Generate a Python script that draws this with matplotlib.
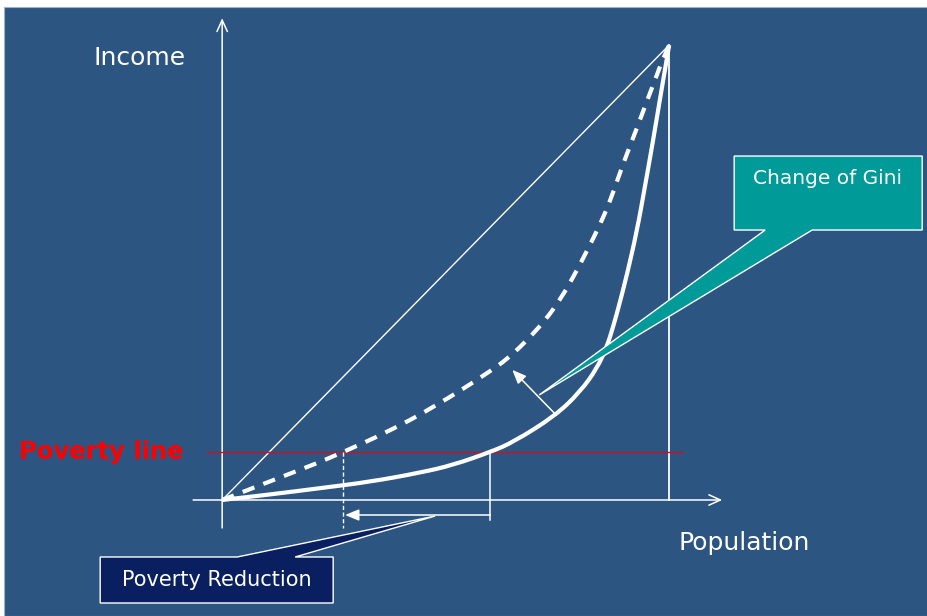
import matplotlib.pyplot as plt
from matplotlib.patches import Polygon, Rectangle, PathPatch
from matplotlib.path import Path

# Lorenz curves: cumulative population share vs cumulative income share
pop_before = [0, 0.107, 0.219, 0.331, 0.443, 0.517, 0.600, 0.651, 0.745, 0.801,
              0.839, 0.861, 0.875, 0.888, 0.906, 0.928, 0.946, 0.964, 0.980, 1.0]
inc_before = [0, 0.012, 0.026, 0.040, 0.060, 0.077, 0.1055, 0.127, 0.185, 0.238,
              0.290, 0.338, 0.382, 0.428, 0.497, 0.592, 0.690, 0.790, 0.885, 1.0]

pop_after = [0, 0.112, 0.213, 0.271, 0.369, 0.472, 0.604, 0.647, 0.687, 0.725,
             0.752, 0.781, 0.832, 0.857, 0.875, 0.893, 0.913, 0.933, 0.951,
             0.971, 0.984, 1.0]
inc_after = [0, 0.043, 0.081, 0.1055, 0.149, 0.203, 0.285, 0.318, 0.356, 0.398,
             0.435, 0.481, 0.578, 0.631, 0.677, 0.728, 0.780, 0.831, 0.879,
             0.930, 0.965, 1.0]

poverty_line = 0.1055
poor_before = 0.600   # share below poverty line, solid curve
poor_after = 0.271    # share below poverty line, dashed curve

bg = '#2d5581'
white = 'white'


def smooth_path(xs, ys):
    # quadratic bezier through midpoints, points used as control points
    pts = list(zip(xs, ys))
    verts = [pts[0]]
    codes = [Path.MOVETO]
    for i in range(1, len(pts) - 1):
        if i == len(pts) - 2:
            end = pts[-1]
        else:
            end = ((pts[i][0] + pts[i + 1][0]) / 2, (pts[i][1] + pts[i + 1][1]) / 2)
        verts += [pts[i], end]
        codes += [Path.CURVE3, Path.CURVE3]
    return Path(verts, codes)


fig = plt.figure(figsize=(9.28, 6.16), dpi=100)
fig.patch.set_facecolor('white')
ax = fig.add_axes([0, 0, 1, 1])
ax.set_xlim(-0.497, 1.579)
ax.set_ylim(-0.255, 1.099)
ax.axis('off')
ax.add_patch(Rectangle((4 / 928, 0), 1, 609 / 616, transform=ax.transAxes,
                       facecolor=bg, edgecolor='#9fb3c8', lw=0.8, zorder=0))

# axes with open arrow heads
ax.annotate('', xy=(0, 1.059), xytext=(0, -0.0615),
            arrowprops=dict(arrowstyle='->,head_length=0.55,head_width=0.25',
                            mutation_scale=15, color=white, lw=1.1,
                            shrinkA=0, shrinkB=0), zorder=2)
ax.annotate('', xy=(1.1186, 0), xytext=(-0.065, 0),
            arrowprops=dict(arrowstyle='->,head_length=0.55,head_width=0.25',
                            mutation_scale=15, color=white, lw=1.1,
                            shrinkA=0, shrinkB=0), zorder=2)

# equality line and right edge
ax.plot([0, 1], [0, 1], color=white, lw=1.0, zorder=2)
ax.plot([1, 1], [0, 1], color=white, lw=1.3, zorder=2)

# poverty line
ax.plot([-0.034, 1.031], [poverty_line, poverty_line], color='#cc1020', lw=1.0, zorder=2)

# curves
ax.add_patch(PathPatch(smooth_path(pop_before, inc_before), facecolor='none',
                       edgecolor=white, lw=3.0, capstyle='butt', zorder=3))
ax.add_patch(PathPatch(smooth_path(pop_after, inc_after), facecolor='none',
                       edgecolor=white, lw=3.0, linestyle=(0, (3.0, 2.3)),
                       capstyle='butt', zorder=3))

# Gini change arrow
ax.annotate('', xy=(0.649, 0.286), xytext=(0.747, 0.187),
            arrowprops=dict(arrowstyle='-|>,head_length=0.6,head_width=0.25',
                            mutation_scale=14, color=white, lw=1.1,
                            shrinkA=0, shrinkB=0), zorder=4)

# poverty reduction markers
ax.plot([poor_after, poor_after], [poverty_line, -0.0615], color=white, lw=1.0,
        linestyle=(0, (3, 1.8)), zorder=2)
ax.plot([poor_before, poor_before], [poverty_line, -0.044], color=white, lw=1.1, zorder=2)
ax.annotate('', xy=(poor_after + 0.004, -0.033), xytext=(poor_before, -0.033),
            arrowprops=dict(arrowstyle='-|>,head_length=0.6,head_width=0.25',
                            mutation_scale=14, color=white, lw=1.1,
                            shrinkA=0, shrinkB=0), zorder=4)

# callouts
gini_shape = [(1.1454, 0.756), (1.566, 0.756), (1.566, 0.5934), (1.3199, 0.5934),
              (0.7092, 0.2308), (1.2148, 0.5934), (1.1454, 0.5934)]
ax.add_patch(Polygon(gini_shape, closed=True, facecolor='#009a99',
                     edgecolor=white, lw=1.0, zorder=5))
ax.text(1.3535, 0.7077, 'Change of Gini', color=white, fontsize=14.5,
        ha='center', va='center', zorder=6)

pov_shape = [(-0.2729, -0.1253), (0.0336, -0.1253), (0.4765, -0.0352),
             (0.1633, -0.1253), (0.2483, -0.1253), (0.2483, -0.2264),
             (-0.2729, -0.2264)]
ax.add_patch(Polygon(pov_shape, closed=True, facecolor='#0a1f5f',
                     edgecolor=white, lw=1.0, zorder=5))
ax.text(-0.0123, -0.1758, 'Poverty Reduction', color=white, fontsize=15,
        ha='center', va='center', zorder=6)

# labels
ax.text(-0.1857, 0.9714, 'Income', color=white, fontsize=18, ha='center', va='center')
ax.text(1.1678, -0.0945, 'Population', color=white, fontsize=18, ha='center', va='center')
ax.text(-0.2707, poverty_line, 'Poverty line', color='#ff0000', fontsize=17.5,
        fontweight='bold', ha='center', va='center')

fig.savefig('out.png', dpi=100, facecolor=fig.get_facecolor())
